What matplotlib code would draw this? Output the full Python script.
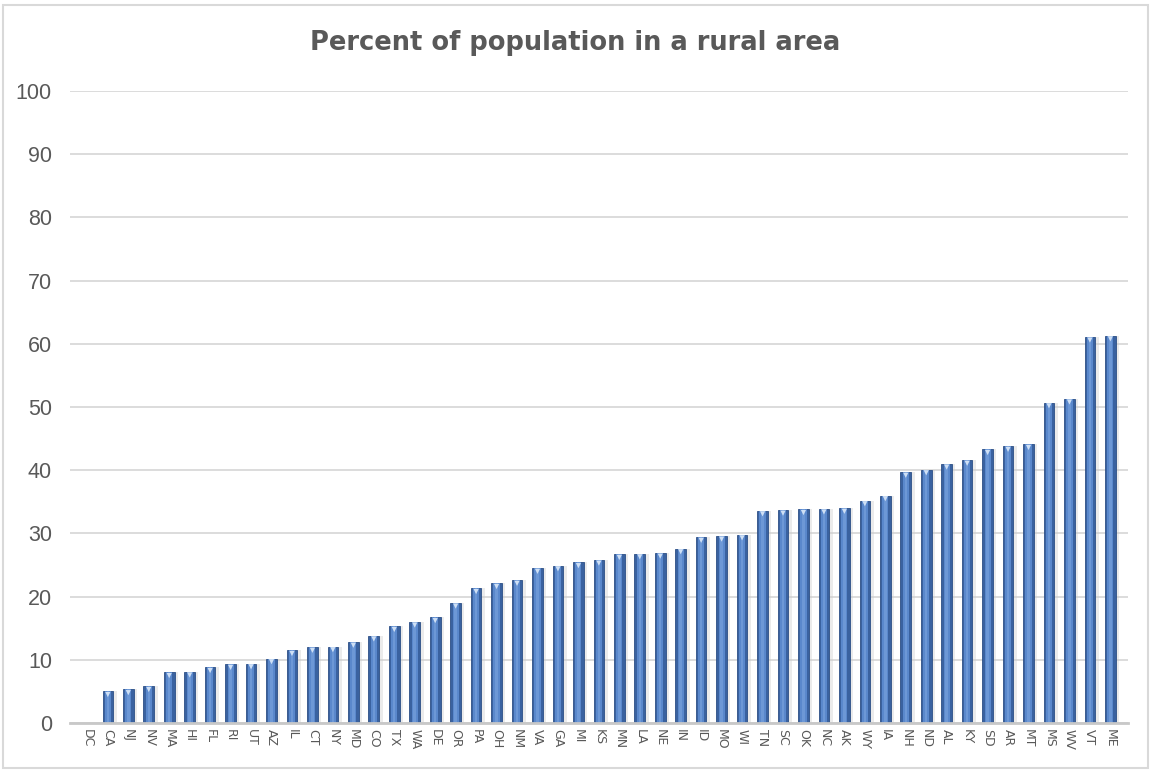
import numpy as np
import matplotlib.pyplot as plt
from matplotlib.patches import Rectangle

states = [
    "DC", "CA", "NJ", "NV", "MA", "HI", "FL", "RI", "UT", "AZ", "IL", "CT", "NY",
    "MD", "CO", "TX", "WA", "DE", "OR", "PA", "OH", "NM", "VA", "GA", "MI", "KS",
    "MN", "LA", "NE", "IN", "ID", "MO", "WI", "TN", "SC", "OK", "NC", "AK", "WY",
    "IA", "NH", "ND", "AL", "KY", "SD", "AR", "MT", "MS", "WV", "VT", "ME",
]
rural_pct = [
    0.0, 5.0, 5.3, 5.8, 8.0, 8.1, 8.8, 9.3, 9.4, 10.2, 11.5, 12.0, 12.1,
    12.8, 13.8, 15.3, 16.0, 16.7, 19.0, 21.3, 22.1, 22.6, 24.5, 24.9, 25.4, 25.8,
    26.7, 26.8, 26.9, 27.6, 29.4, 29.6, 29.8, 33.6, 33.7, 33.8, 33.9, 34.0, 35.2,
    36.0, 39.7, 40.1, 41.0, 41.6, 43.3, 43.8, 44.1, 50.7, 51.3, 61.1, 61.3,
]
y_ticks = list(range(0, 101, 10))

text_gray = "#595959"

fig = plt.figure(figsize=(11.51, 7.72), dpi=100)
fig.patches.append(Rectangle((0.003, 0.005), 0.994, 0.988, transform=fig.transFigure,
                             fill=False, edgecolor="#d9d9d9", linewidth=1.5))
ax = fig.add_axes([0.0608, 0.0635, 0.919, 0.8185])

x = np.arange(len(states))
vals = np.array(rural_pct)

# soft shadow, dark body, lighter centre to mimic the cylinder look
ax.bar(x + 0.12, vals, width=0.62, color="#c8c8c8", alpha=0.35, zorder=2)
ax.bar(x, vals, width=0.52, color="#3a62a0", edgecolor="#2c4f86", linewidth=0.6, zorder=3)
ax.bar(x, vals, width=0.30, color="#5a88cc", zorder=4)
ax.bar(x, vals, width=0.12, color="#6d98d6", zorder=5)
mask = vals > 0
ax.scatter(x[mask], vals[mask] - 0.5, marker="v", s=14, color="#cfe0f5",
           edgecolor="none", zorder=6)

ax.set_xlim(-0.85, len(states) - 0.15)
ax.set_ylim(0, 100)
ax.set_yticks(y_ticks)
ax.set_yticklabels([str(t) for t in y_ticks], family="Liberation Sans", fontsize=15.5,
                   color=text_gray)
ax.set_xticks(x)
ax.set_xticklabels(states, rotation=-90, fontsize=9, color=text_gray)
ax.tick_params(axis="y", length=0, pad=13)
ax.tick_params(axis="x", length=0, pad=4)

ax.grid(axis="y", color="#d9d9d9", linewidth=1.3, zorder=0)
ax.set_axisbelow(True)
for side in ["top", "right", "left"]:
    ax.spines[side].set_visible(False)
ax.spines["bottom"].set_color("#c8c8c8")
ax.spines["bottom"].set_linewidth(2)
ax.spines["bottom"].set_zorder(7)

fig.text(0.500, 0.944, "Percent of population in a rural area", ha="center", va="center",
         fontsize=18.5, fontweight="bold", color=text_gray)

plt.savefig("out.png", dpi=100)
